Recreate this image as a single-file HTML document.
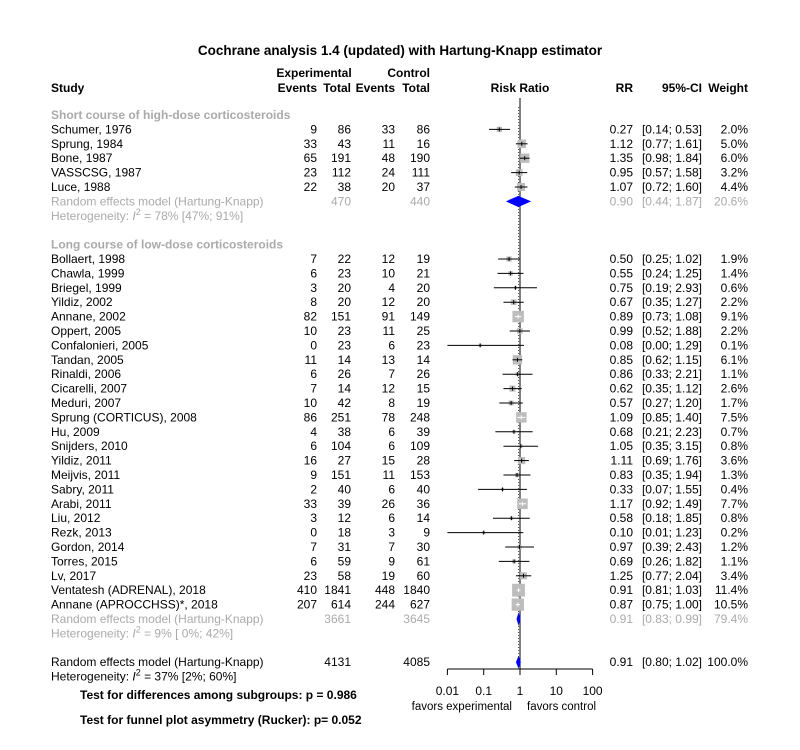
<!DOCTYPE html>
<html><head><meta charset="utf-8">
<style>
body{margin:0;background:#fff;}
svg{display:block;font-family:"Liberation Sans",sans-serif;}
</style></head>
<body>
<svg id="plot" width="800" height="750" viewBox="0 0 800 750">
<text x="400" y="55" text-anchor="middle" font-size="13.5" font-weight="bold">Cochrane analysis 1.4 (updated) with Hartung-Knapp estimator</text>
<g font-size="12" font-weight="bold">
<text x="51" y="92">Study</text>
<text x="314" y="77" text-anchor="middle">Experimental</text>
<text x="317" y="92" text-anchor="end">Events</text>
<text x="351" y="92" text-anchor="end">Total</text>
<text x="430" y="77" text-anchor="end">Control</text>
<text x="395" y="92" text-anchor="end">Events</text>
<text x="430" y="92" text-anchor="end">Total</text>
<text x="520" y="92" text-anchor="middle">Risk Ratio</text>
<text x="633" y="92" text-anchor="end">RR</text>
<text x="702" y="92" text-anchor="end">95%-CI</text>
<text x="748" y="92" text-anchor="end">Weight</text>
</g>
<g id="rows" font-size="12"></g>
<g id="marks"></g>
<g font-size="12" font-weight="bold">
<text x="80" y="699">Test for differences among subgroups: p = 0.986</text>
<text x="80" y="724">Test for funnel plot asymmetry (Rucker): p= 0.052</text>
</g>
<g font-size="11.5">
<text x="512" y="710" text-anchor="end">favors experimental</text>
<text x="527" y="710" text-anchor="start">favors control</text>
</g>
</svg>
<script>
const studies=["Schumer, 1976","Sprung, 1984","Bone, 1987","VASSCSG, 1987","Luce, 1988",
"Bollaert, 1998","Chawla, 1999","Briegel, 1999","Yildiz, 2002","Annane, 2002","Oppert, 2005","Confalonieri, 2005","Tandan, 2005","Rinaldi, 2006","Cicarelli, 2007","Meduri, 2007","Sprung (CORTICUS), 2008","Hu, 2009","Snijders, 2010","Yildiz, 2011","Meijvis, 2011","Sabry, 2011","Arabi, 2011","Liu, 2012","Rezk, 2013","Gordon, 2014","Torres, 2015","Lv, 2017","Ventatesh  (ADRENAL), 2018","Annane (APROCCHSS)*, 2018"];
const groups=[0,0,0,0,0,1,1,1,1,1,1,1,1,1,1,1,1,1,1,1,1,1,1,1,1,1,1,1,1,1];
const expEvents=[9,33,65,23,22,7,6,3,8,82,10,0,11,6,7,10,86,4,6,16,9,2,33,3,0,7,6,23,410,207];
const expTotal=[86,43,191,112,38,22,23,20,20,151,23,23,14,26,14,42,251,38,104,27,151,40,39,12,18,31,59,58,1841,614];
const ctrlEvents=[33,11,48,24,20,12,10,4,12,91,11,6,13,7,12,8,78,6,6,15,11,6,26,6,3,7,9,19,448,244];
const ctrlTotal=[86,16,190,111,37,19,21,20,20,149,25,23,14,26,15,19,248,39,109,28,153,40,36,14,9,30,61,60,1840,627];
const rr=[0.27,1.12,1.35,0.95,1.07,0.50,0.55,0.75,0.67,0.89,0.99,0.08,0.85,0.86,0.62,0.57,1.09,0.68,1.05,1.11,0.83,0.33,1.17,0.58,0.10,0.97,0.69,1.25,0.91,0.87];
const lower=[0.14,0.77,0.98,0.57,0.72,0.25,0.24,0.19,0.35,0.73,0.52,0.00,0.62,0.33,0.35,0.27,0.85,0.21,0.35,0.69,0.35,0.07,0.92,0.18,0.01,0.39,0.26,0.77,0.81,0.75];
const upper=[0.53,1.61,1.84,1.58,1.60,1.02,1.25,2.93,1.27,1.08,1.88,1.29,1.15,2.21,1.12,1.20,1.40,2.23,3.15,1.76,1.94,1.55,1.49,1.85,1.23,2.43,1.82,2.04,1.03,1.00];
const weights=[2.0,5.0,6.0,3.2,4.4,1.9,1.4,0.6,2.2,9.1,2.2,0.1,6.1,1.1,2.6,1.7,7.5,0.7,0.8,3.6,1.3,0.4,7.7,0.8,0.2,1.2,1.1,3.4,11.4,10.5];
const groupNames=["Short course of high-dose corticosteroids","Long course of low-dose corticosteroids"];
const poolRR=[0.90,0.91,0.91];
const poolLo=[0.44,0.83,0.80];
const poolHi=[1.87,0.99,1.02];
const poolW=["20.6%","79.4%","100.0%"];
const poolExpT=[470,3661,4131];
const poolCtrlT=[440,3645,4085];
const hetText=["78% [47%; 91%]","9% [ 0%; 42%]","37% [2%; 60%]"];
const ticks=[0.01,0.1,1,10,100];
const tickLabels=["0.01","0.1","1","10","100"];

const NS="http://www.w3.org/2000/svg";
const X0=520,DEC=36.3,AXMIN=0.01,AXMAX=100;
function xs(v){v=Math.max(AXMIN,Math.min(AXMAX,v));return X0+DEC*Math.log10(v);}
const Y0=115,DY=14.4;
function ys(i){return Y0+i*DY;}
function mk(tag,attrs,parent,text){const e=document.createElementNS(NS,tag);for(const k in attrs)e.setAttribute(k,attrs[k]);if(text!==undefined)e.textContent=text;parent.appendChild(e);return e;}
const rows=document.getElementById('rows'),marks=document.getElementById('marks');
const f2=v=>v.toFixed(2);
function txt(x,y,s,anchor,fill,parent,name){const t=mk('text',{x:x,y:y+4,'text-anchor':anchor||'start',fill:fill||'#000'},parent||rows,s);

return t;}

let idx=0;const layout=[];
for(let g=0;g<2;g++){
  layout.push({type:'head',g:g,i:idx++});
  studies.forEach((s,k)=>{if(groups[k]===g)layout.push({type:'study',k:k,i:idx++});});
  layout.push({type:'pool',p:g,i:idx++});
  layout.push({type:'het',p:g,i:idx++});
  idx++;
}
layout.push({type:'pool',p:2,i:idx++});
layout.push({type:'het',p:2,i:idx++});

const GREY='#aaaaaa';
const yTop=98,yAxis=669;
const dl=mk('line',{x1:xs(poolRR[2]),x2:xs(poolRR[2]),y1:ys(0)-8,y2:ys(idx-2),stroke:'#555','stroke-dasharray':'1,2','stroke-width':1},marks);


const nl=mk('line',{x1:X0,x2:X0,y1:yTop,y2:yAxis,stroke:'#000','stroke-width':1},marks);


const ax=mk('line',{x1:xs(AXMIN),x2:xs(AXMAX),y1:yAxis,y2:yAxis,stroke:'#000'},marks);


ticks.forEach((t,j)=>{
  const tl=mk('line',{x1:xs(t),x2:xs(t),y1:yAxis,y2:yAxis+6,stroke:'#000'},marks);
  
  
  const tt=mk('text',{x:xs(t),y:695,'text-anchor':'middle','font-size':12},marks,tickLabels[j]);
  
  
});

layout.forEach(r=>{
  const y=ys(r.i);
  if(r.type==='head'){
    const t=txt(51,y,groupNames[r.g],'start',GREY,rows,'subgroup-header');t.setAttribute('font-weight','bold');
  } else if(r.type==='study'){
    const k=r.k;
    txt(51,y,studies[k],'start','#000',rows,'study-label');
    txt(317,y,expEvents[k],'end','#000',rows,'exp-events');
    txt(351,y,expTotal[k],'end','#000',rows,'exp-total');
    txt(395,y,ctrlEvents[k],'end','#000',rows,'ctrl-events');
    txt(430,y,ctrlTotal[k],'end','#000',rows,'ctrl-total');
    txt(633,y,f2(rr[k]),'end','#000',rows,'rr-value');
    txt(702,y,'['+f2(lower[k])+'; '+f2(upper[k])+']','end','#000',rows,'ci-value');
    txt(748,y,weights[k].toFixed(1)+'%','end','#000',rows,'weight-value');
    const x1=xs(lower[k]),x2=xs(upper[k]),xc=xs(rr[k]);
    const s=Math.max(3,3.8*Math.sqrt(weights[k]));
    const sq=mk('rect',{x:xc-s/2,y:y-s/2,width:s,height:s,fill:'#bdbdbd'},marks);
    
    
    const inside=(x1>xc-s/2&&x2<xc+s/2);
    const col=inside?'#fff':'#000';
    const ci=mk('line',{x1:x1,x2:x2,y1:y,y2:y,stroke:col,'stroke-width':1},marks);
    
    
    const pt=mk('line',{x1:xc,x2:xc,y1:y-2,y2:y+2,stroke:col},marks);
    
    
  } else if(r.type==='pool'){
    const p=r.p,c=p===2?'#000':GREY;
    txt(51,y,'Random effects model  (Hartung-Knapp)','start',c,rows,'pooled-label');
    txt(351,y,poolExpT[p],'end',c,rows,'pooled-exp-total');
    txt(430,y,poolCtrlT[p],'end',c,rows,'pooled-ctrl-total');
    txt(633,y,f2(poolRR[p]),'end',c,rows,'pooled-rr');
    txt(702,y,'['+f2(poolLo[p])+'; '+f2(poolHi[p])+']','end',c,rows,'pooled-ci');
    txt(748,y,poolW[p],'end',c,rows,'pooled-weight');
    const a=xs(poolLo[p]),b=xs(poolHi[p]),m=xs(poolRR[p]);
    const d=mk('polygon',{points:`${a},${y} ${m},${y-5} ${b},${y} ${m},${y+5}`,fill:'#0000ff',stroke:'#0000ff','stroke-width':1},marks);
    
    
  } else {
    const p=r.p,c=p===2?'#000':GREY;
    const t=mk('text',{x:51,y:y+4,fill:c},rows);
    
    
    mk('tspan',{},t,'Heterogeneity: ');
    mk('tspan',{'font-style':'italic'},t,'I');
    mk('tspan',{dy:-5,'font-size':9},t,'2');
    mk('tspan',{dy:5},t,' = '+hetText[p]);
  }
});
</script>
</body></html>
